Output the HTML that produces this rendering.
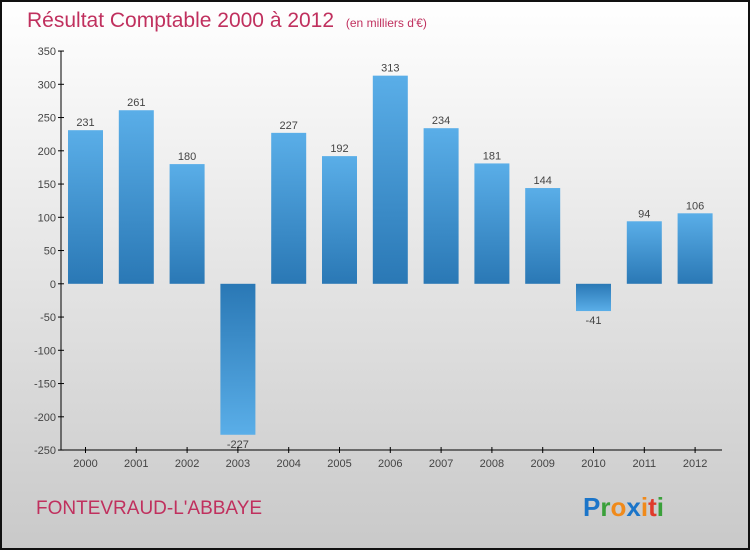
<!DOCTYPE html>
<html><head><meta charset="utf-8"><style>
body{margin:0;width:750px;height:550px;overflow:hidden}
svg{display:block;font-family:"Liberation Sans",sans-serif}
</style></head><body>
<svg id="c" width="750" height="550">
<defs>
<linearGradient id="bg" x1="0" y1="0" x2="0" y2="1"><stop offset="0" stop-color="#ffffff"/><stop offset="1" stop-color="#c9c9c9"/></linearGradient>
<linearGradient id="pos" x1="0" y1="0" x2="0" y2="1"><stop offset="0" stop-color="#5aaee8"/><stop offset="1" stop-color="#2a78b5"/></linearGradient>
<linearGradient id="neg" x1="0" y1="0" x2="0" y2="1"><stop offset="0" stop-color="#2a78b5"/><stop offset="1" stop-color="#5aaee8"/></linearGradient>
</defs>
<rect x="1" y="1" width="748" height="548" fill="url(#bg)" stroke="#111" stroke-width="2"/>
<text x="27" y="27" font-size="21" fill="#c0305e">Résultat Comptable 2000 à 2012 <tspan font-size="12" dx="6">(en milliers d'€)</tspan></text>
<text x="36" y="514" font-size="19" fill="#c0305e">FONTEVRAUD-L'ABBAYE</text>
<text x="583" y="516" font-size="26" font-weight="bold"><tspan fill="#1b75c9">P</tspan><tspan fill="#3aa03a">r</tspan><tspan fill="#f08a1a">o</tspan><tspan fill="#1b75c9">x</tspan><tspan fill="#f08a1a">i</tspan><tspan fill="#e03a2a">t</tspan><tspan fill="#3aa03a">i</tspan></text>
<g id="g"></g>
</svg>
<script>
const years=["2000","2001","2002","2003","2004","2005","2006","2007","2008","2009","2010","2011","2012"];
const values=[231,261,180,-227,227,192,313,234,181,144,-41,94,106];
const yTicks=[350,300,250,200,150,100,50,0,-50,-100,-150,-200,-250];
const NS="http://www.w3.org/2000/svg",g=document.getElementById('g');
const y=v=>283.8-v*0.665, x=i=>85.5+i*50.8;
function mk(t,a,txt){const e=document.createElementNS(NS,t);for(const k in a)e.setAttribute(k,a[k]);if(txt!==undefined)e.textContent=txt;g.appendChild(e);return e;}
let e=mk('line',{x1:61,y1:51,x2:61,y2:450,stroke:'#000'});

e=mk('line',{x1:61,y1:450,x2:722,y2:450,stroke:'#000'});

yTicks.forEach(v=>{
 e=mk('line',{x1:58,y1:y(v),x2:64,y2:y(v),stroke:'#000'});
 
 e=mk('text',{x:56,y:y(v)+4,'font-size':11,fill:'#444','text-anchor':'end'},v);
 
});
years.forEach((yr,i)=>{
 const v=values[i],top=Math.min(y(v),y(0)),h=Math.abs(y(v)-y(0));
 e=mk('rect',{x:x(i)-17.5,y:top,width:35,height:h,fill:v>=0?'url(#pos)':'url(#neg)'});
 
 e=mk('text',{x:x(i),y:v>=0?y(v)-4:y(v)+13,'font-size':11,fill:'#444','text-anchor':'middle'},v);
 
 e=mk('line',{x1:x(i),y1:447,x2:x(i),y2:453,stroke:'#000'});
 
 e=mk('text',{x:x(i),y:467,'font-size':11,fill:'#444','text-anchor':'middle'},yr);
 
});
</script>
</body></html>
